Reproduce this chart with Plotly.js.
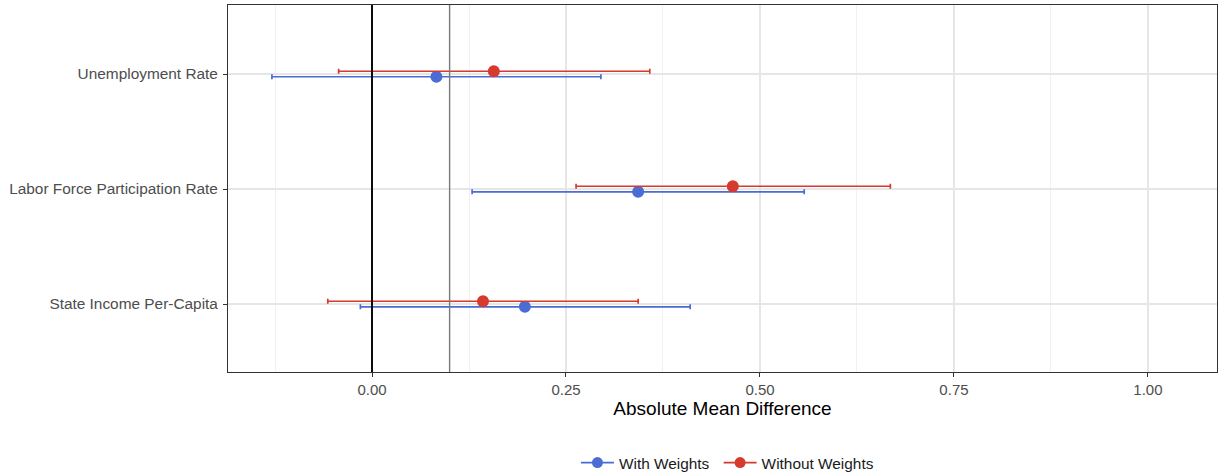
<!DOCTYPE html>
<html>
<head>
<meta charset="utf-8">
<script src="https://cdn.plot.ly/plotly-3.0.1.min.js"></script>
<style>html,body{margin:0;padding:0;background:#fff;}#chart{width:1219px;height:474px;}</style>
</head>
<body>
<div id="chart"></div>
<script>
// Data
const categories = ["State Income Per-Capita", "Labor Force Participation Rate", "Unemployment Rate"];
const withEst  = [0.197, 0.343, 0.083];
const withLo   = [-0.015, 0.129, -0.129];
const withHi   = [0.410, 0.557, 0.295];
const withoutEst = [0.143, 0.465, 0.157];
const withoutLo  = [-0.057, 0.263, -0.043];
const withoutHi  = [0.343, 0.668, 0.358];
const refLines = [0, 0.1];
const xTickVals = [0, 0.25, 0.5, 0.75, 1.0];
const xTickText = ["0.00", "0.25", "0.50", "0.75", "1.00"];
const seriesNames = ["With Weights", "Without Weights"];

const blue = "#4A6CD3";
const red = "#D7392C";
const dodge = 0.024;
const pos = categories.map((c, i) => i + 1);

function series(name, est, lo, hi, color, off) {
  return {
    type: "scatter", mode: "markers", name: name, showlegend: false,
    x: est, y: pos.map(p => p + off),
    marker: {color: color, size: 12},
    error_x: {type: "data", symmetric: false,
      array: hi.map((h, i) => h - est[i]),
      arrayminus: lo.map((l, i) => est[i] - l),
      color: color, thickness: 1.7, width: 2.5},
    hoverinfo: "x+y"
  };
}
function legendTrace(name, color) {
  return {type: "scatter", mode: "lines+markers", name: name, x: [null], y: [null],
    marker: {color: color, size: 11}, line: {color: color, width: 1.7}};
}

const data = [
  series(seriesNames[0], withEst, withLo, withHi, blue, -dodge),
  series(seriesNames[1], withoutEst, withoutLo, withoutHi, red, dodge),
  legendTrace(seriesNames[0] + "\u00A0", blue),
  legendTrace(seriesNames[1], red)
];

const shapes = refLines.map((v, i) => ({
  type: "line", xref: "x", yref: "paper", x0: v, x1: v, y0: 0, y1: 1,
  line: {color: i === 0 ? "#000000" : "#7a7a7a", width: i === 0 ? 1.9 : 1.4},
  layer: "above"
}));

const layout = {
  width: 1219, height: 474,
  margin: {l: 228, r: 2, t: 5, b: 102, autoexpand: false},
  paper_bgcolor: "#fff", plot_bgcolor: "#fff",
  font: {family: "Liberation Sans, Arial, sans-serif", color: "#4D4D4D", size: 15},
  showlegend: true,
  legend: {orientation: "h", x: 0.505, xanchor: "center", yref: "container", y: 0.023, yanchor: "middle",
    font: {size: 15.4, color: "#1a1a1a"}, itemwidth: 33, traceorder: "normal"},
  xaxis: {
    range: [-0.1856, 1.089], tickvals: xTickVals, ticktext: xTickText,
    showgrid: true, gridcolor: "#E6E6E6", gridwidth: 1.3,
    minor: {tick0: -0.125, dtick: 0.25, showgrid: true, gridcolor: "#EDEDED", gridwidth: 0.8},
    zeroline: false, showline: true, mirror: true, linecolor: "#333333", linewidth: 1,
    ticks: "outside", ticklen: 4, tickcolor: "#333333", tickwidth: 1,
    ticklabelstandoff: 0,
    tickfont: {size: 15, color: "#4D4D4D"},
    title: {text: "Absolute Mean Difference", font: {size: 19, color: "#000"}, standoff: 2}
  },
  yaxis: {
    range: [0.409, 3.6], tickvals: pos, ticktext: categories,
    showgrid: true, gridcolor: "#E6E6E6", gridwidth: 1.3,
    zeroline: false, showline: true, mirror: true, linecolor: "#333333", linewidth: 1,
    ticks: "outside", ticklen: 4, tickcolor: "#333333", tickwidth: 1,
    ticklabelstandoff: 2,
    tickfont: {size: 15.4, color: "#4D4D4D"}
  },
  shapes: shapes
};

Plotly.newPlot("chart", data, layout, {displayModeBar: false, staticPlot: true});
</script>
</body>
</html>
